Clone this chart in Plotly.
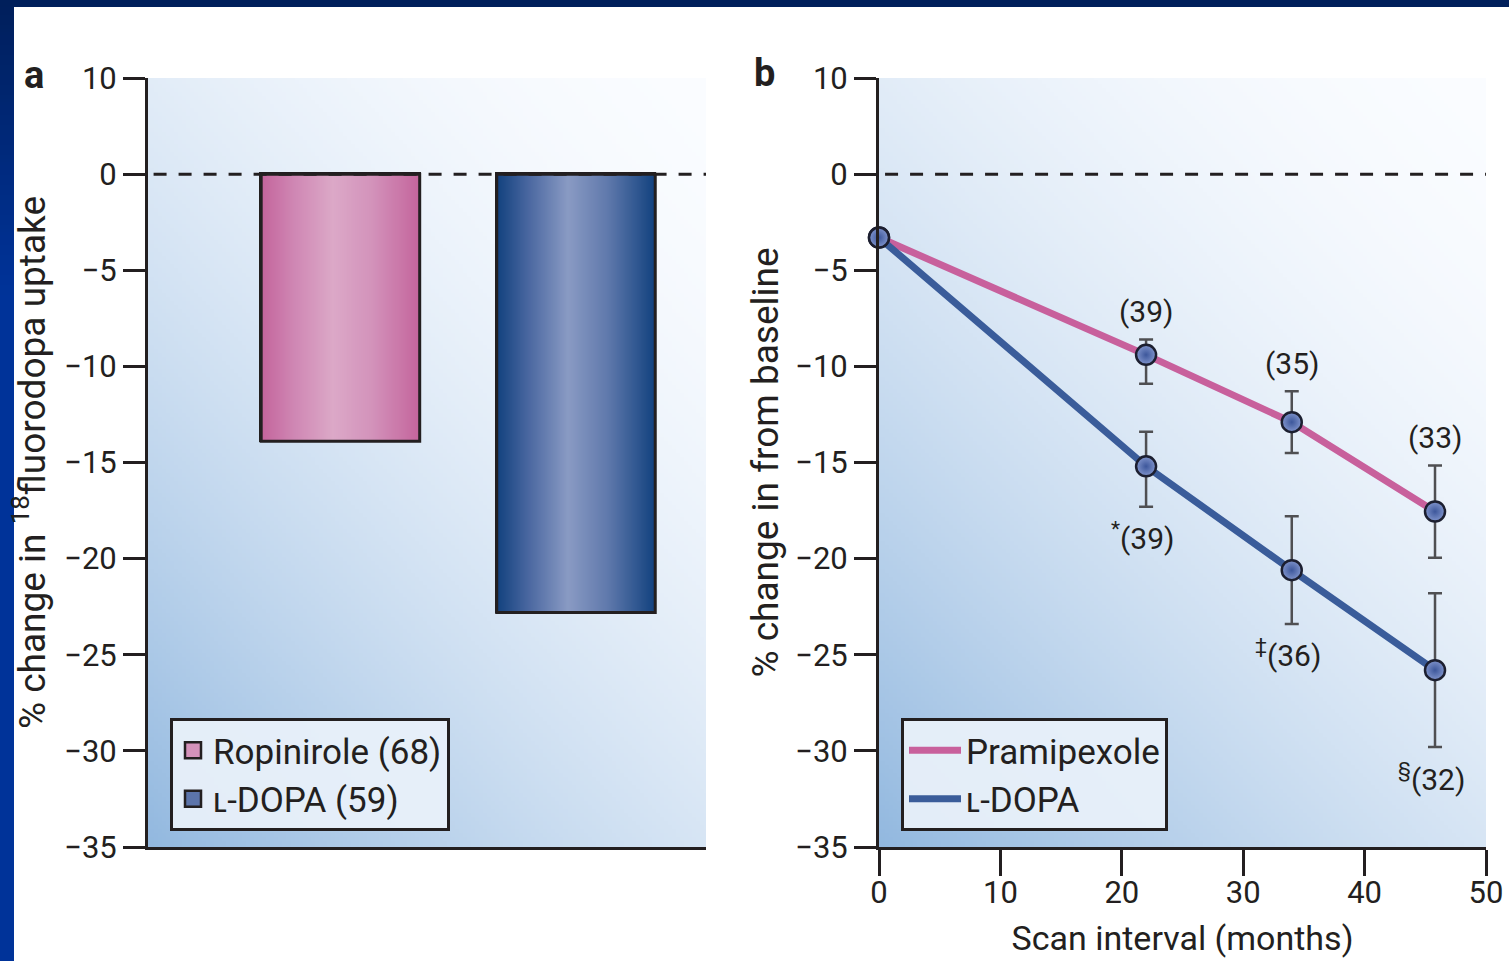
import base64
import struct
import zlib

import plotly.graph_objects as go

# ---------------- data ----------------
# Panel a
bar_names = ["Ropinirole (68)", "ʟ-DOPA (59)"]
bar_positions = [0, 1]
bar_values = [-13.9, -22.8]

# Panel b
pram_months = [0, 22, 34, 45.8]
pram_values = [-3.3, -9.4, -12.9, -17.55]
pram_err_plus = [0, 0.8, 1.6, 2.4]
pram_err_minus = [0, 1.5, 1.6, 2.4]
pram_labels = ["", "(39)", "(35)", "(33)"]

ldopa_months = [0, 22, 34, 45.8]
ldopa_values = [-3.3, -15.2, -20.6, -25.8]
ldopa_err_plus = [0, 1.8, 2.8, 4.0]
ldopa_err_minus = [0, 2.1, 2.8, 4.0]
ldopa_labels = ["", "<sup>*</sup>(39)", "<sup>‡</sup>(36)", "<sup>§</sup>(32)"]

y_tickvals = [5, 0, -5, -10, -15, -20, -25, -30, -35]
y_ticktext = ["10", "0", "−5", "−10", "−15", "−20", "−25", "−30", "−35"]
x_tickvals_b = [0, 10, 20, 30, 40, 50]
x_ticktext_b = ["0", "10", "20", "30", "40", "50"]

# ---------------- style ----------------
W, H = 1509, 961
FONT = "Roboto, 'Liberation Sans', sans-serif"
INK = "#231f20"
PINK = "#c8609c"
BLUE = "#3a5c9a"
BAR_W = 0.673


def hex2rgb(h):
    h = h.lstrip("#")
    return tuple(int(h[i:i + 2], 16) for i in (0, 2, 4))


def png_uri(rows):
    h = len(rows)
    w = len(rows[0])
    raw = b"".join(b"\x00" + bytes([c for px in row for c in px]) for row in rows)

    def chunk(tag, data):
        c = struct.pack(">I", len(data)) + tag + data
        return c + struct.pack(">I", zlib.crc32(tag + data) & 0xFFFFFFFF)

    png = b"\x89PNG\r\n\x1a\n"
    png += chunk(b"IHDR", struct.pack(">IIBBBBB", w, h, 8, 2, 0, 0, 0))
    png += chunk(b"IDAT", zlib.compress(raw, 9))
    png += chunk(b"IEND", b"")
    return "data:image/png;base64," + base64.b64encode(png).decode()


def lerp(c0, c1, f):
    return tuple(int(round(a + (b - a) * f)) for a, b in zip(c0, c1))


def stops_color(stops, t):
    for (t0, c0), (t1, c1) in zip(stops, stops[1:]):
        if t0 <= t <= t1:
            return lerp(hex2rgb(c0), hex2rgb(c1), (t - t0) / (t1 - t0))
    return hex2rgb(stops[-1][1])


def bg_image(wpx, hpx):
    gw, gh = max(2, wpx // 4), max(2, hpx // 4)
    c0, c1 = (250, 252, 255), (146, 184, 223)
    rows = []
    for j in range(gh):
        v = (j + 0.5) / gh
        row = []
        for i in range(gw):
            u = 1 - (i + 0.5) / gw
            s = min(1.0, 0.45 * u + 0.55 * v)
            row.append(lerp(c0, c1, s ** 1.8))
        rows.append(row)
    return png_uri(rows)


def bar_image(stops):
    n = 80
    row = [stops_color(stops, (i + 0.5) / n) for i in range(n)]
    return png_uri([row, row])


pink_stops = [(0, "#c4649c"), (0.2, "#cf86b3"), (0.45, "#dca9c8"), (0.7, "#d393bb"), (1, "#c4649c")]
blue_stops = [(0, "#12427f"), (0.2, "#4a67a0"), (0.45, "#8a9bc4"), (0.7, "#6079ac"), (1, "#12427f")]
bar_stops = [pink_stops, blue_stops]
bar_mid = ["#d592bb", "#5c74aa"]

# plot geometry in pixels
ax_a = (148, 706, 78, 847)
ax_b = (879, 1486, 78, 847)


def xdom(p):
    return [p[0] / W, p[1] / W]


def ydom(p):
    return [1 - p[3] / H, 1 - p[2] / H]


fig = go.Figure()

# ---- panel a bars ----
for name, pos, val, col in zip(bar_names, bar_positions, bar_values, bar_mid):
    fig.add_trace(go.Bar(
        x=[pos], y=[val], width=BAR_W, name=name, marker=dict(color=col, line=dict(color=INK, width=3)),
        xaxis="x", yaxis="y", showlegend=False, hoverinfo="skip",
    ))
# legend entries for the bars (larger square swatches)
for name, col in zip(bar_names, bar_mid):
    fig.add_trace(go.Scatter(
        x=[None], y=[None], mode="markers", name=name, xaxis="x", yaxis="y", legend="legend",
        marker=dict(symbol="square", size=22, color=col, line=dict(color=INK, width=2.5)),
    ))

# ---- panel b ----
fig.add_trace(go.Scatter(x=pram_months, y=pram_values, mode="lines", name="Pramipexole",
                         line=dict(color=PINK, width=7), xaxis="x2", yaxis="y2", legend="legend2",
                         cliponaxis=False))
fig.add_trace(go.Scatter(x=ldopa_months, y=ldopa_values, mode="lines", name="ʟ-DOPA",
                         line=dict(color=BLUE, width=7), xaxis="x2", yaxis="y2", legend="legend2",
                         cliponaxis=False))
for xs, ys, ep, em in ((pram_months, pram_values, pram_err_plus, pram_err_minus),
                       (ldopa_months, ldopa_values, ldopa_err_plus, ldopa_err_minus)):
    fig.add_trace(go.Scatter(
        x=xs, y=ys, mode="markers", showlegend=False, xaxis="x2", yaxis="y2", cliponaxis=False,
        marker=dict(size=20, color="#8094cc", line=dict(color="#1c1f30", width=2.5),
                    gradient=dict(type="radial", color="#3d579b")),
        error_y=dict(type="data", symmetric=False, array=ep, arrayminus=em,
                     color="#4f4f52", thickness=2.5, width=7),
    ))

shapes = []
images = []

# backgrounds
for ref, geom in (("", ax_a), ("2", ax_b)):
    images.append(dict(source=bg_image(geom[1] - geom[0], geom[3] - geom[2]),
                       xref=f"x{ref} domain", yref=f"y{ref} domain", x=0, y=1, sizex=1, sizey=1,
                       xanchor="left", yanchor="top", sizing="stretch", layer="below"))
    shapes.append(dict(type="line", xref=f"x{ref} domain", yref=f"y{ref}", x0=0.01, x1=1,
                       y0=0, y1=0, line=dict(color=INK, width=3, dash="13px,12px"), layer="above"))

# gradient fills + outlines of bars
for pos, val, stops in zip(bar_positions, bar_values, bar_stops):
    images.append(dict(source=bar_image(stops), xref="x", yref="y", x=pos - BAR_W / 2, y=0,
                       sizex=BAR_W, sizey=-val, xanchor="left", yanchor="top", sizing="stretch",
                       layer="above"))
    shapes.append(dict(type="rect", xref="x", yref="y", x0=pos - BAR_W / 2, x1=pos + BAR_W / 2,
                       y0=0, y1=val, line=dict(color=INK, width=3), layer="above"))

# slide border: top band and left band
shapes.append(dict(type="rect", xref="paper", yref="paper", x0=0, x1=1, y0=1 - 7 / H, y1=1,
                   fillcolor="#001f5b", line=dict(width=0), layer="above"))
left_rows = [[stops_color([(0, "#001f5b"), (0.3, "#003399"), (1, "#003399")], (j + 0.5) / 96)] * 2
             for j in range(96)]
images.append(dict(source=png_uri(left_rows), xref="paper", yref="paper", x=0, y=1,
                   sizex=14 / W, sizey=1, xanchor="left", yanchor="top", sizing="stretch",
                   layer="above"))

annotations = []
for x, y, e, t in zip(pram_months, pram_values, pram_err_plus, pram_labels):
    if t:
        annotations.append(dict(x=x, y=y + e, xref="x2", yref="y2", text=t, showarrow=False,
                                yshift=28, font=dict(size=30, color=INK, family=FONT)))
for x, y, e, t in zip(ldopa_months, ldopa_values, ldopa_err_minus, ldopa_labels):
    if t:
        annotations.append(dict(x=x, y=y - e, xref="x2", yref="y2", text=t, showarrow=False,
                                yshift=-30, xshift=-4, font=dict(size=30, color=INK, family=FONT)))
for letter, px, py in (("a", 34, 75), ("b", 764, 73)):
    annotations.append(dict(x=px / W, y=1 - py / H, xref="paper", yref="paper", text=f"<b>{letter}</b>",
                            showarrow=False, xanchor="center", yanchor="middle",
                            font=dict(size=38, color=INK, family=FONT)))

yaxis_common = dict(range=[-35, 5], tickmode="array", tickvals=y_tickvals, ticktext=y_ticktext,
                    showline=True, linecolor=INK, linewidth=3, ticks="outside", ticklen=22,
                    tickwidth=3, tickcolor=INK, showgrid=False, zeroline=False,
                    tickfont=dict(size=31, color=INK, family=FONT), fixedrange=True)

fig.update_layout(
    width=W, height=H, margin=dict(l=0, r=0, t=0, b=0, pad=0, autoexpand=False),
    paper_bgcolor="white", plot_bgcolor="white", showlegend=True,
    font=dict(family=FONT, color=INK),
    xaxis=dict(domain=xdom(ax_a), range=[-0.817, 1.552], showline=True, linecolor=INK, linewidth=3,
               ticks="", showticklabels=False, showgrid=False, zeroline=False, anchor="y"),
    yaxis=dict(domain=ydom(ax_a), anchor="x",
               title=dict(text="% change in <sup>18</sup>fluorodopa uptake", standoff=8,
                          font=dict(size=37, color=INK, family=FONT)),
               **yaxis_common),
    xaxis2=dict(domain=xdom(ax_b), range=[0, 50], tickmode="array", tickvals=x_tickvals_b,
                ticktext=x_ticktext_b, showline=True, linecolor=INK, linewidth=3, ticks="outside",
                ticklen=26, tickwidth=3, tickcolor=INK, showgrid=False, zeroline=False, anchor="y2",
                tickfont=dict(size=31, color=INK, family=FONT), ticklabelstandoff=-10,
                title=dict(text="Scan interval (months)", standoff=16,
                           font=dict(size=34, color=INK, family=FONT))),
    yaxis2=dict(domain=ydom(ax_b), anchor="x2",
                title=dict(text="% change in from baseline", standoff=6,
                           font=dict(size=37, color=INK, family=FONT)),
                **yaxis_common),
    legend=dict(x=170 / W, y=1 - 718 / H, xanchor="left", yanchor="top",
                bgcolor="rgba(233,241,250,0.92)", bordercolor=INK, borderwidth=3,
                font=dict(size=35, color=INK, family=FONT), tracegroupgap=0, itemsizing="trace"),
    legend2=dict(x=901 / W, y=1 - 718 / H, xanchor="left", yanchor="top",
                 bgcolor="rgba(233,241,250,0.92)", bordercolor=INK, borderwidth=3,
                 font=dict(size=35, color=INK, family=FONT), itemwidth=52, tracegroupgap=0),
    shapes=shapes, images=images, annotations=annotations,
    bargap=0, hovermode=False,
)

fig.write_html(
    "out.html",
    config={"displayModeBar": False},
    post_script="document.body.style.margin='0px';document.body.style.overflow='hidden';",
)
